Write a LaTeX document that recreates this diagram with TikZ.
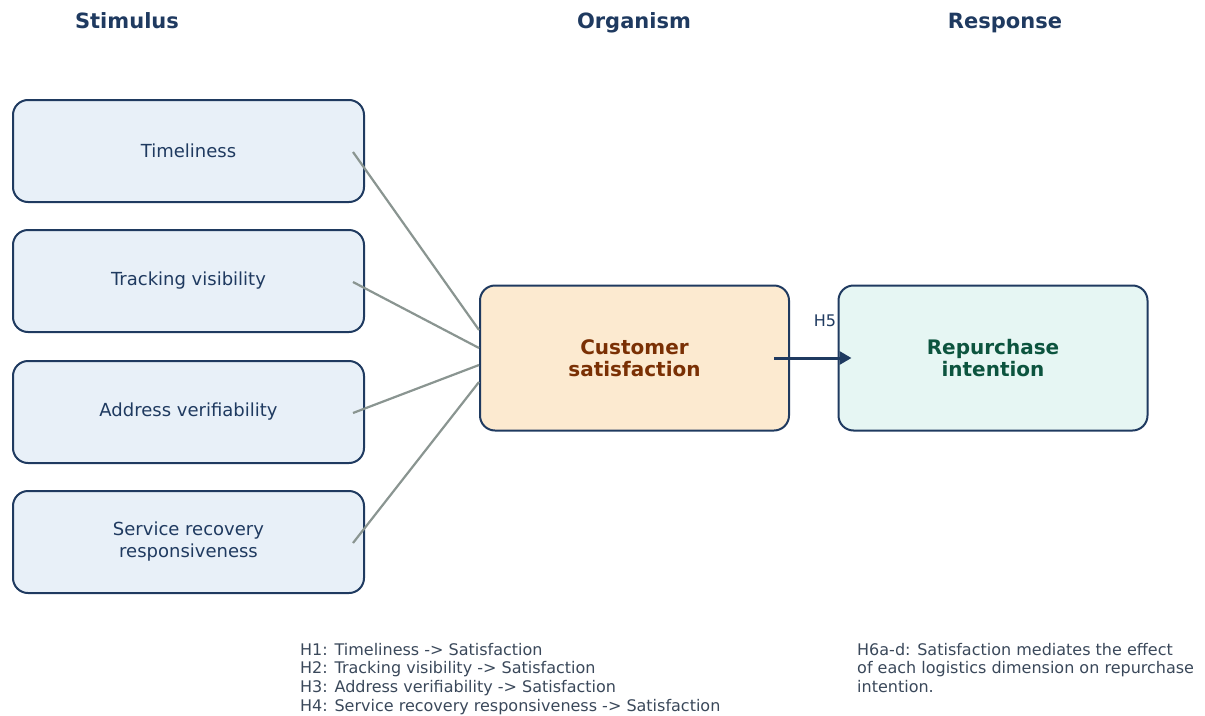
\documentclass[tikz,border=0pt]{standalone}
\usepackage{fontspec}
\setmainfont{DejaVu Sans}
\usetikzlibrary{arrows.meta,positioning,calc}
\definecolor{navy}{RGB}{31,58,96}
\definecolor{stimfill}{RGB}{232,240,248}
\definecolor{satfill}{RGB}{252,234,208}
\definecolor{satbrown}{RGB}{122,48,4}
\definecolor{repfill}{RGB}{230,246,243}
\definecolor{repgreen}{RGB}{12,84,62}
\definecolor{linkgray}{RGB}{138,149,145}
\definecolor{notegray}{RGB}{58,72,90}

\tikzset{
  stimbox/.style={draw=navy, fill=stimfill, line width=2pt, rounded corners=15pt,
    minimum width=351pt, minimum height=102pt, align=center, text=navy,
    font=\fontsize{18}{22}\selectfont},
  midbox/.style={draw=navy, line width=2pt, rounded corners=15pt,
    minimum width=309pt, minimum height=145pt, align=center,
    font=\bfseries\fontsize{20}{22}\selectfont},
  header/.style={text=navy, anchor=base, font=\bfseries\fontsize{21}{24}\selectfont},
  link/.style={draw=linkgray, line width=2.2pt},
  hyp/.style={draw=navy, line width=3pt, -{Triangle[length=12pt,width=13pt]}},
  note/.style={text=notegray, align=left, inner sep=0pt, anchor=north west,
    font=\fontsize{16}{18.6}\selectfont}
}

\begin{document}
\begin{tikzpicture}[x=1pt,y=-1pt]
  \useasboundingbox (0,0) rectangle (1205,715);

  % column headings
  \node[header] (hs) at (127,28.5) {Stimulus};
  \node[header] (ho) at (634,28.5) {Organism};
  \node[header] (hr) at (1005,28.5) {Response};

  % logistics dimensions
  \foreach \nm/\yy/\txt in {tim/151/Timeliness, trk/281/Tracking visibility,
      adr/412/Address verifiability, srv/542/{Service recovery\\responsiveness}} {
    \node[stimbox] (\nm) at (188.5,\yy) {\txt};
  }

  \node[midbox, fill=satfill, text=satbrown] (sat) at (634.5,358) {Customer\\satisfaction};
  \node[midbox, fill=repfill, text=repgreen] (rep) at (993,358) {Repurchase\\intention};

  % H1--H4
  \foreach \nm/\dy in {tim/-28, trk/-10, adr/7, srv/24} {
    \draw[link] ($(\nm.east)+(-12,1)$) -- ($(sat.west)+(0,\dy)$);
  }

  % H5
  \draw[hyp] ($(sat.east)+(-16,0)$) -- ($(rep.west)+(14,0)$);
  \node[text=navy, font=\fontsize{16}{18}\selectfont] (h5) at (825,321) {H5};

  \node[note] (n1) at (300,643) {H1: Timeliness -> Satisfaction\\
    H2: Tracking visibility -> Satisfaction\\
    H3: Address verifiability -> Satisfaction\\
    H4: Service recovery responsiveness -> Satisfaction};
  \node[note] (n2) at (857,643) {H6a-d: Satisfaction mediates the effect\\
    of each logistics dimension on repurchase\\
    intention.};
\end{tikzpicture}
\end{document}
